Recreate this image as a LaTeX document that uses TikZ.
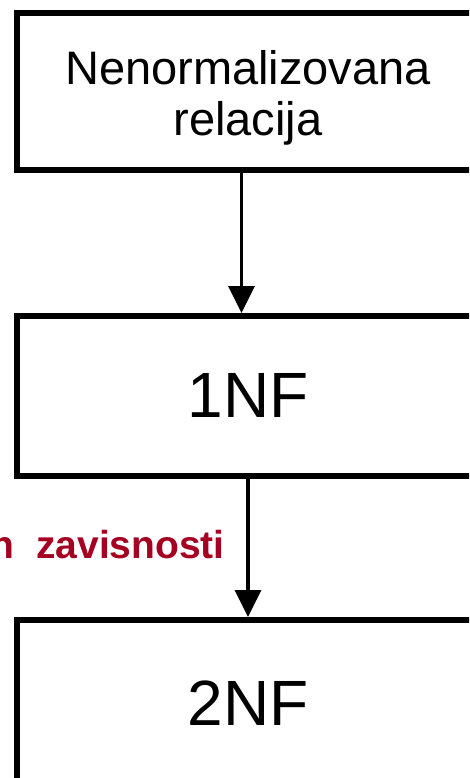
\documentclass[tikz,border=0pt]{standalone}
\usepackage{fontspec}
\setmainfont{Liberation Sans}
\usetikzlibrary{positioning}
\usetikzlibrary{calc}
\usetikzlibrary{arrows.meta}
\definecolor{depred}{RGB}{165,0,33}

\begin{document}
\begin{tikzpicture}[x=1pt,y=1pt,
	nfbox/.style={draw,line width=6pt,minimum width=462pt,inner sep=0pt,align=center},
	nfarrow/.style={line width=3.5pt,-{Triangle[length=27pt,width=26pt]}}]
	\useasboundingbox (0,0) rectangle (469,-778);
	\clip (0,0) rectangle (469,-778);

	% normal forms
	\node[nfbox,minimum height=157pt,font=\fontsize{47}{51}\selectfont] (rel) at (248,-91.5) {\rule{0pt}{46pt}Nenormalizovana\\relacija};
	\node[nfbox,minimum height=159.5pt,font=\fontsize{64}{70}\selectfont,below=140pt of rel] (nf1) {1NF};
	\node[nfbox,minimum height=166pt,font=\fontsize{64}{70}\selectfont,below=138.5pt of nf1] (nf2) {2NF};

	% transitions
	\draw[nfarrow] ([xshift=-6.5pt]rel.south) -- ([xshift=-6.5pt]nf1.north);
	\draw[nfarrow] (nf1.south) -- (nf2.north);
	\node[text=depred,font=\bfseries\fontsize{39}{44}\selectfont,inner sep=0pt,anchor=base east] (elim) at ($(nf1.south)+(-23,-80)$) {n\ \ zavisnosti};
\end{tikzpicture}
\end{document}
